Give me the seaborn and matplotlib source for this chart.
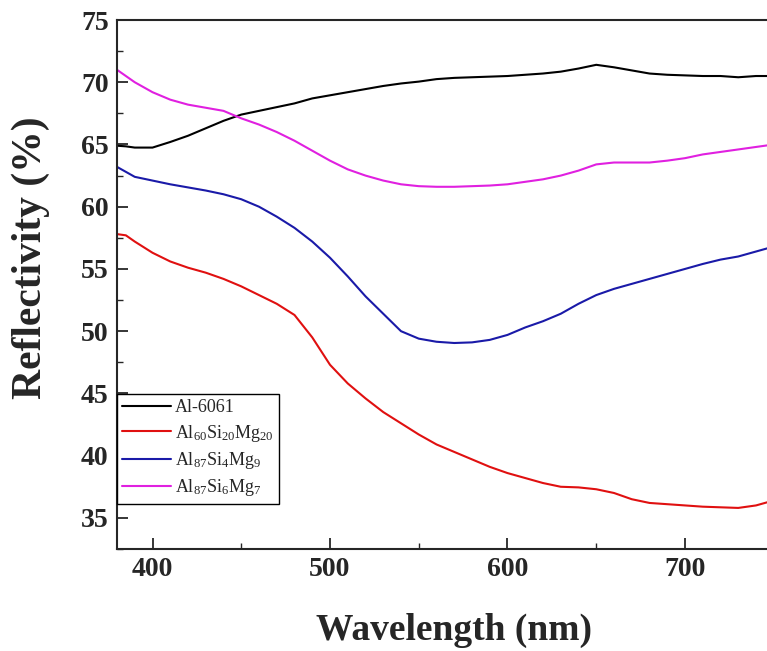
import matplotlib
matplotlib.use("Agg")
import matplotlib.pyplot as plt
import seaborn as sns
import pandas as pd
from matplotlib.ticker import MultipleLocator

wavelength = [380, 385, 390, 400, 410, 420, 430, 440, 450, 460, 470, 480, 490, 500,
              510, 520, 530, 540, 550, 560, 570, 580, 590, 600, 610, 620, 630, 640,
              650, 660, 670, 680, 690, 700, 710, 720, 730, 740, 750]

al6061 = [64.9, 64.85, 64.75, 64.75, 65.2, 65.7, 66.3, 66.9, 67.4, 67.7, 68.0, 68.3, 68.7, 68.95,
          69.2, 69.45, 69.7, 69.9, 70.05, 70.25, 70.35, 70.4, 70.45, 70.5, 70.6, 70.7, 70.85, 71.1,
          71.4, 71.2, 70.95, 70.7, 70.6, 70.55, 70.5, 70.5, 70.4, 70.5, 70.5]

al60 = [57.8, 57.7, 57.2, 56.3, 55.6, 55.1, 54.7, 54.2, 53.6, 52.9, 52.2, 51.3, 49.5, 47.3,
        45.8, 44.6, 43.5, 42.6, 41.7, 40.9, 40.3, 39.7, 39.1, 38.6, 38.2, 37.8, 37.5, 37.45,
        37.3, 37.0, 36.5, 36.2, 36.1, 36.0, 35.9, 35.85, 35.8, 36.0, 36.4]

al87_si4 = [63.2, 62.8, 62.4, 62.1, 61.8, 61.55, 61.3, 61.0, 60.6, 60.0, 59.2, 58.3, 57.2, 55.9,
            54.4, 52.8, 51.4, 50.0, 49.4, 49.15, 49.05, 49.1, 49.3, 49.7, 50.3, 50.8, 51.4, 52.2,
            52.9, 53.4, 53.8, 54.2, 54.6, 55.0, 55.4, 55.75, 56.0, 56.4, 56.8]

al87_si6 = [71.0, 70.5, 70.0, 69.2, 68.6, 68.2, 67.95, 67.7, 67.1, 66.6, 66.0, 65.3, 64.5, 63.7,
            63.0, 62.5, 62.1, 61.8, 61.65, 61.6, 61.6, 61.65, 61.7, 61.8, 62.0, 62.2, 62.5, 62.9,
            63.4, 63.55, 63.55, 63.55, 63.7, 63.9, 64.2, 64.4, 64.6, 64.8, 65.0]

labels = ["Al-6061",
          r"Al$_{60}$Si$_{20}$Mg$_{20}$",
          r"Al$_{87}$Si$_{4}$Mg$_{9}$",
          r"Al$_{87}$Si$_{6}$Mg$_{7}$"]
colors = ["#000000", "#e01010", "#1a1aa8", "#e020e0"]

x_ticks = [400, 500, 600, 700]
y_ticks = [35, 40, 45, 50, 55, 60, 65, 70, 75]

rows = []
for lab, vals in zip(labels, [al6061, al60, al87_si4, al87_si6]):
    for w, v in zip(wavelength, vals):
        rows.append({"Wavelength": w, "Reflectivity": v, "Sample": lab})
df = pd.DataFrame(rows)

sns.set_style("ticks")
plt.rcParams["font.family"] = ["Liberation Serif", "DejaVu Serif"]
plt.rcParams["mathtext.fontset"] = "custom"
plt.rcParams["mathtext.rm"] = "Liberation Serif"
plt.rcParams["mathtext.it"] = "Liberation Serif"
plt.rcParams["mathtext.default"] = "rm"

fig = plt.figure(figsize=(7.67, 6.51), dpi=100)
ax = fig.add_axes([117 / 767, (651 - 549) / 651, 674.5 / 767, 529 / 651])

sns.lineplot(data=df, x="Wavelength", y="Reflectivity", hue="Sample",
             palette=dict(zip(labels, colors)), hue_order=labels,
             linewidth=1.5, ax=ax, sort=True, estimator=None)

ax.set_xlim(380, 760)
ax.set_ylim(32.5, 75)
ax.set_xticks(x_ticks)
ax.set_yticks(y_ticks)
ax.xaxis.set_minor_locator(MultipleLocator(50))
ax.yaxis.set_minor_locator(MultipleLocator(2.5))
ax.tick_params(which="major", direction="in", length=8, width=1.3,
               labelsize=20, pad=6)
ax.tick_params(which="minor", direction="in", length=4, width=1.0)
for lab in ax.get_xticklabels() + ax.get_yticklabels():
    lab.set_fontweight("bold")
for s in ax.spines.values():
    s.set_linewidth(1.5)
ax.spines["right"].set_visible(False)

ax.set_xlabel("Wavelength (nm)", fontsize=27, fontweight="bold", labelpad=22)
ax.set_ylabel("Reflectivity (%)", fontsize=30, fontweight="bold")
ax.yaxis.set_label_coords(-0.100, 0.55)

leg = ax.legend(loc="upper left", bbox_to_anchor=(0.0, 0.293), borderaxespad=0,
                fontsize=13, frameon=True, fancybox=False, edgecolor="black",
                handlelength=2.7, handletextpad=0.2, labelspacing=0.35,
                borderpad=0.3, title=None)
leg.get_frame().set_linewidth(1.0)
leg.get_frame().set_alpha(1)

fig.savefig("out.png", dpi=100)
